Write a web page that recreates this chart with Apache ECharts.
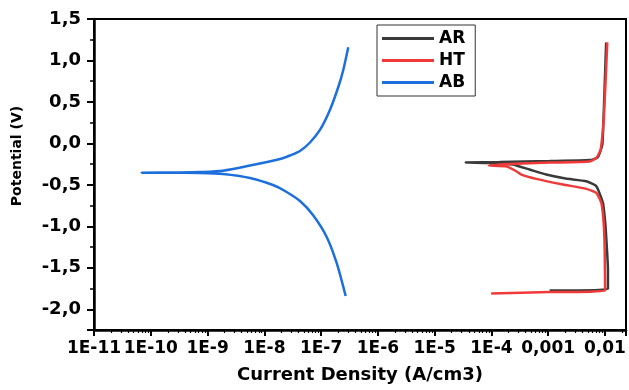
<!DOCTYPE html>
<html><head><meta charset="utf-8">
<script src="https://cdn.jsdelivr.net/npm/echarts@6/dist/echarts.min.js"></script>
<style>html,body{margin:0;padding:0;background:#fff}#c{width:629px;height:390px}</style>
</head><body><div id="c"></div>
<script>
const xTickLabels = ['1E-11','1E-10','1E-9','1E-8','1E-7','1E-6','1E-5','1E-4','0,001','0,01'];
const yTickLabels = ['-2,0','-1,5','-1,0','-0,5','0,0','0,5','1,0','1,5'];
const seriesNames = ['AR','HT','AB'];

const arCurrent   = [1.06e-3, 0.0113, 0.0113, 0.0106, 0.0101, 0.00923, 0.00705, 0.0047, 0.00203, 9.25e-4, 4.7e-4, 2.36e-4, 9.25e-5, 3.5e-5, 1.39e-4, 1.06e-3, 5.37e-3, 7.43e-3, 9.0e-3, 9.7e-3, 0.0105];
const arPotential = [-1.775, -1.757, -1.522, -1.160, -0.95, -0.717, -0.517, -0.457, -0.424, -0.376, -0.315, -0.255, -0.237, -0.231, -0.225, -0.213, -0.201, -0.171, -0.014, 0.529, 1.217];

const htCurrent   = [9.9e-5, 1.06e-3, 0.01007, 9.9e-3, 9.5e-3, 8.65e-3, 7.05e-3, 4.7e-3, 1.82e-3, 6.17e-4, 3.36e-4, 2.74e-4, 1.82e-4, 9.0e-5, 2.08e-4, 1.06e-3, 5.37e-3, 7.13e-3, 8.4e-3, 9.5e-3, 0.0103, 0.0110];
const htPotential = [-1.811, -1.793, -1.775, -1.280, -0.958, -0.717, -0.597, -0.548, -0.496, -0.428, -0.376, -0.336, -0.276, -0.267, -0.249, -0.231, -0.219, -0.171, -0.074, 0.288, 0.770, 1.217];

const abCurrent   = [2.71e-7, 1.88e-7, 1.25e-7, 7.19e-8, 4.25e-8, 2.31e-8, 1.42e-8, 5.58e-9, 1.87e-9, 7.36e-10, 3.27e-10, 6.9e-11, 3.27e-10, 7.36e-10, 1.87e-9, 5.58e-9, 1.89e-8, 2.83e-8, 4.25e-8, 6.37e-8, 9.55e-8, 1.43e-7, 2.01e-7, 2.46e-7, 3.01e-7];
const abPotential = [-1.840, -1.442, -1.125, -0.863, -0.695, -0.574, -0.502, -0.417, -0.369, -0.356, -0.354, -0.353, -0.351, -0.345, -0.329, -0.267, -0.188, -0.146, -0.092, 0.011, 0.162, 0.403, 0.680, 0.885, 1.159];

const colors = ['#3a3a3a', '#f03a3a', '#1c6fdc'];
function pairs(xs, ys) { return xs.map((x, i) => [x, ys[i]]); }
const seriesData = [pairs(arCurrent, arPotential), pairs(htCurrent, htPotential), pairs(abCurrent, abPotential)];

const chart = echarts.init(document.getElementById('c'), null, {renderer: 'canvas'});
chart.setOption({
  animation: false,
  backgroundColor: '#fff',
  grid: {left: 94, right: 3, top: 19, bottom: 60, show: true, borderColor: '#000', borderWidth: 2},
  legend: {
    orient: 'vertical', left: 377, top: 25,
    icon: 'rect', itemWidth: 52, itemHeight: 3, itemGap: 5,
    padding: [5, 10, 5, 5],
    borderColor: '#333', borderWidth: 1,
    textStyle: {fontFamily: 'DejaVu Sans', fontWeight: 'bold', fontSize: 17, color: '#000'},
    data: seriesNames
  },
  xAxis: {
    type: 'log', logBase: 10, min: 1e-11, max: 0.0235,
    name: 'Current Density (A/cm3)', nameLocation: 'middle', nameGap: 36,
    nameTextStyle: {fontFamily: 'DejaVu Sans', fontWeight: 'bold', fontSize: 18, color: '#000'},
    axisLine: {onZero: false, lineStyle: {color: '#000', width: 2.5}},
    axisTick: {inside: false, length: 6, lineStyle: {color: '#000', width: 2}},
    minorTick: {show: true, splitNumber: 9, length: 3, lineStyle: {color: '#000', width: 1.2}},
    splitLine: {show: false},
    axisLabel: {
      showMaxLabel: false, margin: 10, color: '#000',
      fontFamily: 'DejaVu Sans', fontWeight: 'bold', fontSize: 17,
      formatter: v => { const i = Math.round(Math.log10(v)) + 11; return xTickLabels[i] || ''; }
    }
  },
  yAxis: {
    type: 'value', min: -2.25, max: 1.5, splitNumber: 7,
    axisLine: {onZero: false, lineStyle: {color: '#000', width: 2.5}},
    axisTick: {inside: false, length: 7, lineStyle: {color: '#000', width: 2}},
    minorTick: {show: true, splitNumber: 2, length: 4, lineStyle: {color: '#000', width: 1.5}},
    splitLine: {show: false},
    axisLabel: {
      showMinLabel: false, margin: 13, color: '#000',
      fontFamily: 'DejaVu Sans', fontWeight: 'bold', fontSize: 18,
      formatter: v => { const k = Math.round(v * 2); if (Math.abs(v * 2 - k) > 1e-6) return ''; return yTickLabels[k + 4] || ''; }
    }
  },
  graphic: [{
    type: 'text', x: 17, y: 156, rotation: Math.PI / 2,
    style: {text: 'Potential (V)', fill: '#000', font: 'bold 14px "DejaVu Sans"', align: 'center', verticalAlign: 'middle'}
  }],
  series: seriesNames.map((n, i) => ({
    name: n, type: 'line', symbol: 'none', smooth: i === 2 ? 0.25 : 0.15,
    data: seriesData[i],
    lineStyle: {color: colors[i], width: 2.5},
    itemStyle: {color: colors[i]}
  }))
});
</script></body></html>
